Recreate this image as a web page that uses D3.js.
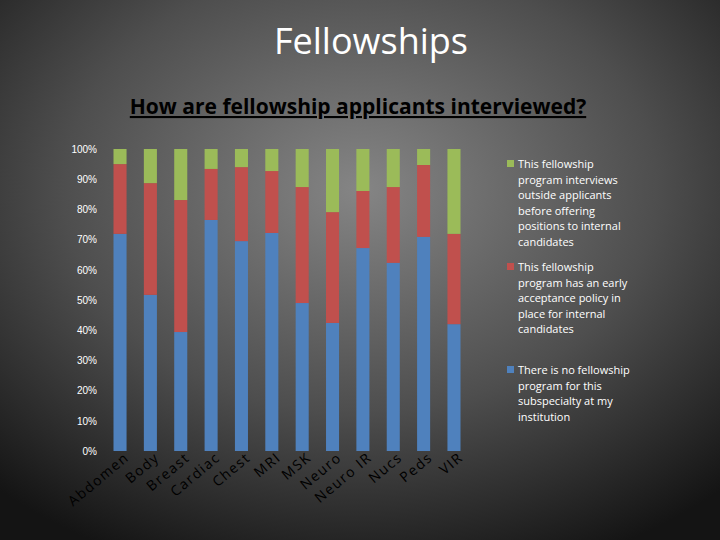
<!DOCTYPE html><html><head><meta charset="utf-8">
<script src="https://cdn.jsdelivr.net/npm/d3@7"></script>
<style>body{margin:0}svg{display:block}</style></head><body>
<svg id="c" width="720" height="540"></svg>
<script>
const categories=["Abdomen","Body","Breast","Cardiac","Chest","MRI","MSK","Neuro","Neuro IR","Nucs","Peds","VIR"];
const noFellowship=[71.9,51.7,39.4,76.5,69.5,72.2,49.0,42.4,67.2,62.3,70.9,42.0];
const earlyAcceptance=[23.1,37.0,43.7,16.9,24.5,20.5,38.4,36.7,18.9,25.1,23.8,29.9];
const interviewsOutside=[5.0,11.3,16.9,6.6,6.0,7.3,12.6,20.9,13.9,12.6,5.3,28.1];
const colors=["#4f81bd","#c0504d","#9bbb59"];
const yTicks=[0,10,20,30,40,50,60,70,80,90,100];
const svg=d3.select("#c");
const defs=svg.append("defs");
const g=defs.append("radialGradient").attr("id","bg").attr("cx","50%").attr("cy","35%").attr("r","75%");
g.append("stop").attr("offset","0%").attr("stop-color","#858585");
g.append("stop").attr("offset","55%").attr("stop-color","#4e4e4e");
g.append("stop").attr("offset","100%").attr("stop-color","#141414");
svg.append("rect").attr("width",720).attr("height",540).attr("fill","url(#bg)");
svg.append("text").attr("x",371).attr("y",54).attr("text-anchor","middle").attr("fill","#fff").attr("font-family","Open Sans, sans-serif").attr("font-size",36).text("Fellowships");
svg.append("text").attr("x",358).attr("y",114).attr("text-anchor","middle").attr("fill","#000").attr("font-family","Open Sans, sans-serif").attr("font-weight","bold").attr("font-size",21).attr("text-decoration","underline").text("How are fellowship applicants interviewed?");
const x=d3.scaleBand().domain(categories).range([105,469]).paddingInner(0.57).paddingOuter(0.28);
const y=d3.scaleLinear().domain([0,100]).range([451,149]);
const ax=svg.append("g").attr("transform","translate(105,0)").call(d3.axisLeft(y).tickValues(yTicks).tickFormat(d=>d+"%").tickSize(0).tickPadding(8));
ax.select(".domain").remove();
ax.selectAll("text").attr("fill","#fff").attr("font-family","Liberation Sans, sans-serif").attr("font-size",10);
const stackData=categories.map((c,i)=>({c,a:noFellowship[i],b:earlyAcceptance[i],d:interviewsOutside[i]}));
const stacks=d3.stack().keys(["a","b","d"])(stackData);
stacks.forEach((s,k)=>{
 svg.append("g").selectAll("rect").data(s).join("rect")
  .attr("x",d=>x(d.data.c)).attr("width",x.bandwidth())
  .attr("y",d=>y(d[1])).attr("height",d=>y(d[0])-y(d[1])).attr("fill",colors[k]);
});
const xl=svg.append("g").attr("transform","translate(0,451)").call(d3.axisBottom(x).tickSize(0).tickPadding(0));
xl.select(".domain").remove();
xl.selectAll("text").attr("fill","#000").attr("font-family","Open Sans, sans-serif").attr("font-size",14).attr("letter-spacing","1.5px")
  .attr("text-anchor","end").attr("dy","0").attr("transform","translate(10,8) rotate(-40)");
const leg=[{k:2,y:160},{k:1,y:263},{k:0,y:366}];
const wrap=[["This fellowship","program interviews","outside applicants","before offering","positions to internal","candidates"],["This fellowship","program has an early","acceptance policy in","place for internal","candidates"],["There is no fellowship","program for this","subspecialty at my","institution"]];
leg.forEach((l,i)=>{
 svg.append("rect").attr("x",507).attr("y",l.y).attr("width",7).attr("height",7).attr("fill",colors[l.k]);
 const t=svg.append("text").attr("x",518).attr("y",l.y+8).attr("fill","#fff").attr("font-family","Open Sans, sans-serif").attr("font-size",11);
 wrap[i].forEach((w,j)=>t.append("tspan").attr("x",518).attr("dy",j?15.5:0).text(w));
});
</script></body></html>
